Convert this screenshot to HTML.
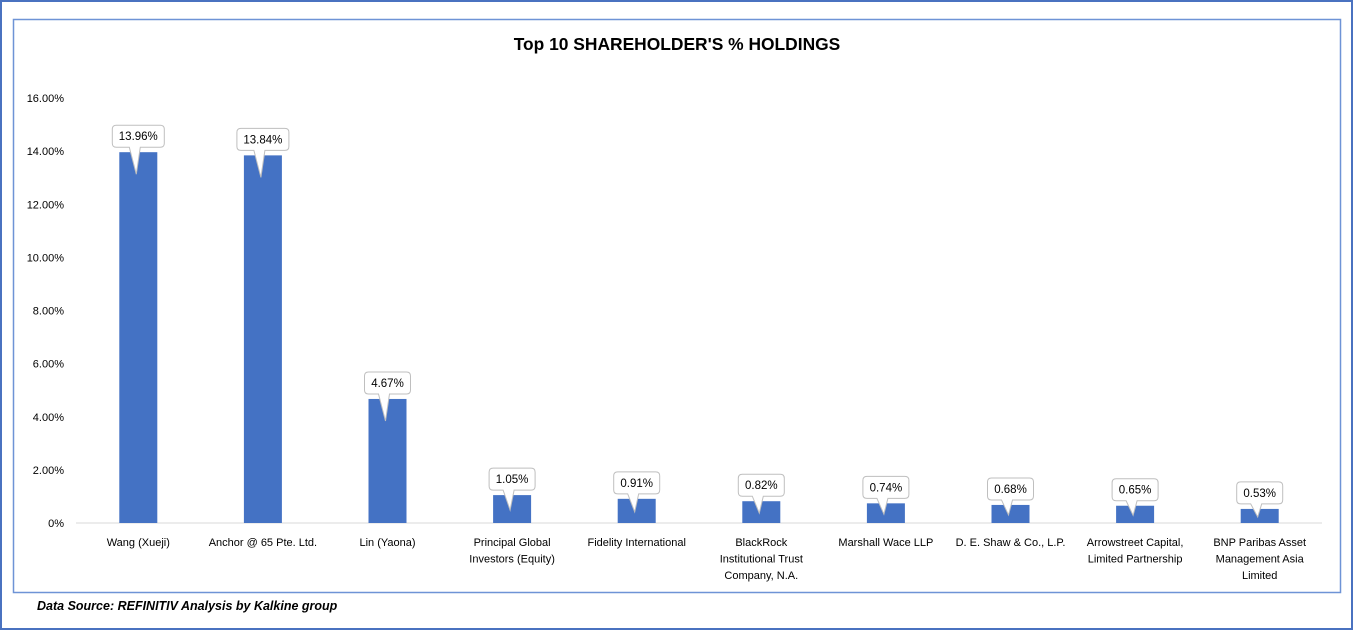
<!DOCTYPE html>
<html><head><meta charset="utf-8"><style>
body{margin:0;background:#fff;}
svg text{font-family:"Liberation Sans",sans-serif;}
</style></head><body>
<svg width="1354" height="631" viewBox="0 0 1354 631">
<rect x="1" y="1" width="1351" height="628" fill="#fff" stroke="#4a72c0" stroke-width="2"/>
<rect x="13.5" y="19.5" width="1327" height="573" fill="#fff" stroke="#6e93d6" stroke-width="1.5"/>
<text x="677" y="50" text-anchor="middle" font-size="17.4" font-weight="bold" fill="#000">Top 10 SHAREHOLDER'S % HOLDINGS</text>
<text x="37" y="610" font-size="12.5" font-weight="bold" font-style="italic" fill="#000">Data Source: REFINITIV Analysis by Kalkine group</text>
<g id="yaxis"></g><g id="bars"></g><g id="xlabels"></g>
</svg>
<script>
const categories=[["Wang (Xueji)"],["Anchor @ 65 Pte. Ltd."],["Lin (Yaona)"],["Principal Global","Investors (Equity)"],["Fidelity International"],["BlackRock","Institutional Trust","Company, N.A."],["Marshall Wace LLP"],["D. E. Shaw & Co., L.P."],["Arrowstreet Capital,","Limited Partnership"],["BNP Paribas Asset","Management Asia","Limited"]];
const values=[13.96,13.84,4.67,1.05,0.91,0.82,0.74,0.68,0.65,0.53];
const valueLabels=["13.96%","13.84%","4.67%","1.05%","0.91%","0.82%","0.74%","0.68%","0.65%","0.53%"];
const ticks=[0,2,4,6,8,10,12,14,16];
const tickLabels=["0%","2.00%","4.00%","6.00%","8.00%","10.00%","12.00%","14.00%","16.00%"];
const NS="http://www.w3.org/2000/svg";
const X0=76,X1=1322,Y0=523,YT=98,YMAX=16;
const y=v=>Y0-(v/YMAX)*(Y0-YT);
const band=(X1-X0)/categories.length;
const xc=i=>X0+band*(i+0.5);
function mk(t,a,p){const e=document.createElementNS(NS,t);for(const k in a)e.setAttribute(k,a[k]);p.appendChild(e);return e;}
const ya=document.getElementById('yaxis');
ticks.forEach((t,i)=>{const e=mk('text',{x:64,y:y(t)+4,'text-anchor':'end','font-size':11,fill:'#000'},ya);


e.textContent=tickLabels[i];});
const ax=mk('line',{x1:X0,x2:X1,y1:Y0,y2:Y0,stroke:'#d9d9d9','stroke-width':1},ya);


const bg=document.getElementById('bars');
values.forEach((v,i)=>{const cx=xc(i),top=y(v),w=38;
const r=mk('rect',{x:cx-w/2,y:top,width:w,height:Y0-top,fill:'#4472c4'},bg);


const bw=valueLabels[i].length>5?52:46,bh=22,bx=cx-bw/2,by=top-27;
const tipY=Math.min(top+22,(top+Y0)/2+1);
const p=mk('path',{d:`M${bx+4},${by} H${bx+bw-4} Q${bx+bw},${by} ${bx+bw},${by+4} V${by+bh-4} Q${bx+bw},${by+bh} ${bx+bw-4},${by+bh} H${cx+2} L${cx-2},${tipY} L${cx-9},${by+bh} H${bx+4} Q${bx},${by+bh} ${bx},${by+bh-4} V${by+4} Q${bx},${by} ${bx+4},${by} Z`,fill:'#fff',stroke:'#bfbfbf','stroke-width':1},bg);


const t=mk('text',{x:cx,y:by+15,'text-anchor':'middle','font-size':11.5,fill:'#000'},bg);


t.textContent=valueLabels[i];});
const xl=document.getElementById('xlabels');
categories.forEach((c,i)=>{c.forEach((ln,j)=>{const t=mk('text',{x:xc(i),y:546+j*16.5,'text-anchor':'middle','font-size':11,fill:'#000'},xl);


t.textContent=ln;});});
</script>
</body></html>
